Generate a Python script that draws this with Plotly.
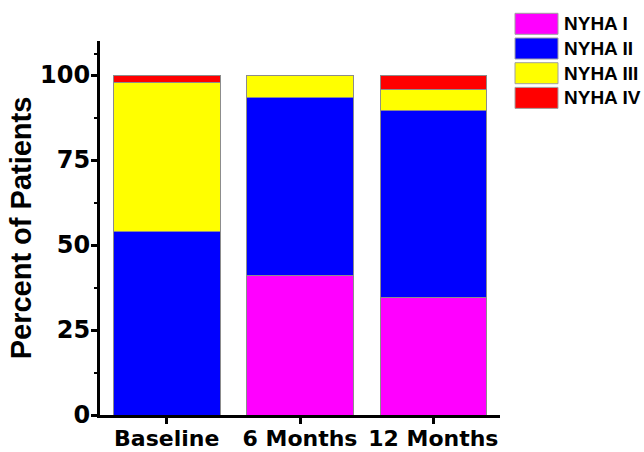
import plotly.graph_objects as go

categories = ["Baseline", "6 Months", "12 Months"]
series_names = ["NYHA I", "NYHA II", "NYHA III", "NYHA IV"]
nyha_1 = [0.0, 41.1, 34.6]
nyha_2 = [54.0, 52.3, 55.0]
nyha_3 = [43.9, 6.6, 6.1]
nyha_4 = [2.1, 0.0, 4.3]
colors = ["#FF00FF", "#0000FF", "#FFFF00", "#FF0000"]
y_ticks = [0, 25, 50, 75, 100]

series_values = [nyha_1, nyha_2, nyha_3, nyha_4]
FONT = "Arial, Liberation Sans, sans-serif"
TICKFONT = "DejaVu Sans, Arial, sans-serif"

fig = go.Figure()
for name, vals, col in zip(series_names, series_values, colors):
    fig.add_trace(go.Bar(
        x=categories, y=vals, name=name,
        marker=dict(color=col, line=dict(color="#8c8c8c", width=1)),
        showlegend=False,
    ))

W, H = 644, 452
ml, mr, mt, mb = 100, 144, 41, 37
pw, ph = W - ml - mr, H - mt - mb

def px_to_paper_x(p):
    return (p - ml) / pw

def px_to_paper_y(p):
    return (H - mb - p) / ph

# custom legend (large swatches like the reference)
shapes = []
annotations = []
for i, (name, col) in enumerate(zip(series_names, colors)):
    top = 13.3 + i * 24.7
    bot = top + 21
    shapes.append(dict(
        type="rect", xref="paper", yref="paper",
        x0=px_to_paper_x(515), x1=px_to_paper_x(558),
        y0=px_to_paper_y(bot), y1=px_to_paper_y(top),
        fillcolor=col, line=dict(color="#a0a0a0", width=1), layer="above",
    ))
    annotations.append(dict(
        text="<b>%s</b>" % name, xref="paper", yref="paper",
        x=px_to_paper_x(562), y=px_to_paper_y((top + bot) / 2),
        xanchor="left", yanchor="middle", showarrow=False,
        font=dict(family=FONT, size=19, color="black"),
    ))

fig.update_layout(
    width=W, height=H,
    margin=dict(l=ml, r=mr, t=mt, b=mb, autoexpand=False),
    barmode="stack", bargap=0.2,
    plot_bgcolor="white", paper_bgcolor="white",
    font=dict(family=FONT, color="black"),
    shapes=shapes, annotations=annotations,
    showlegend=False,
)
fig.update_xaxes(
    range=[-0.5, 2.5], showline=True, linecolor="black", linewidth=3,
    ticks="outside", ticklen=6, tickwidth=2.5, tickcolor="black",
    tickangle=0, tickfont=dict(family=TICKFONT, size=22, color="black"),
    tickvals=categories, ticktext=["<b>%s</b>" % c for c in categories],
    ticklabelstandoff=-4,
    showgrid=False, zeroline=False, automargin=False,
)
fig.update_yaxes(
    range=[0, 110], showline=True, linecolor="black", linewidth=3,
    ticks="outside", ticklen=6, tickwidth=2.5, tickcolor="black",
    tickvals=y_ticks, ticktext=["<b>%d</b>" % v for v in y_ticks],
    tickfont=dict(family=TICKFONT, size=24, color="black"),
    ticklabelstandoff=-4,
    minor=dict(ticks="outside", ticklen=3, tickwidth=2, tickcolor="black",
               tickvals=[12.5, 37.5, 62.5, 87.5, 106.25]),
    title=dict(text="<b>Percent of Patients</b>",
               font=dict(family=FONT, size=29, color="black"), standoff=0),
    showgrid=False, zeroline=False, automargin=False,
)

fig.write_html(
    "out.html",
    config={"displayModeBar": False},
    post_script="document.body.style.margin='0';document.body.style.padding='0';",
)
